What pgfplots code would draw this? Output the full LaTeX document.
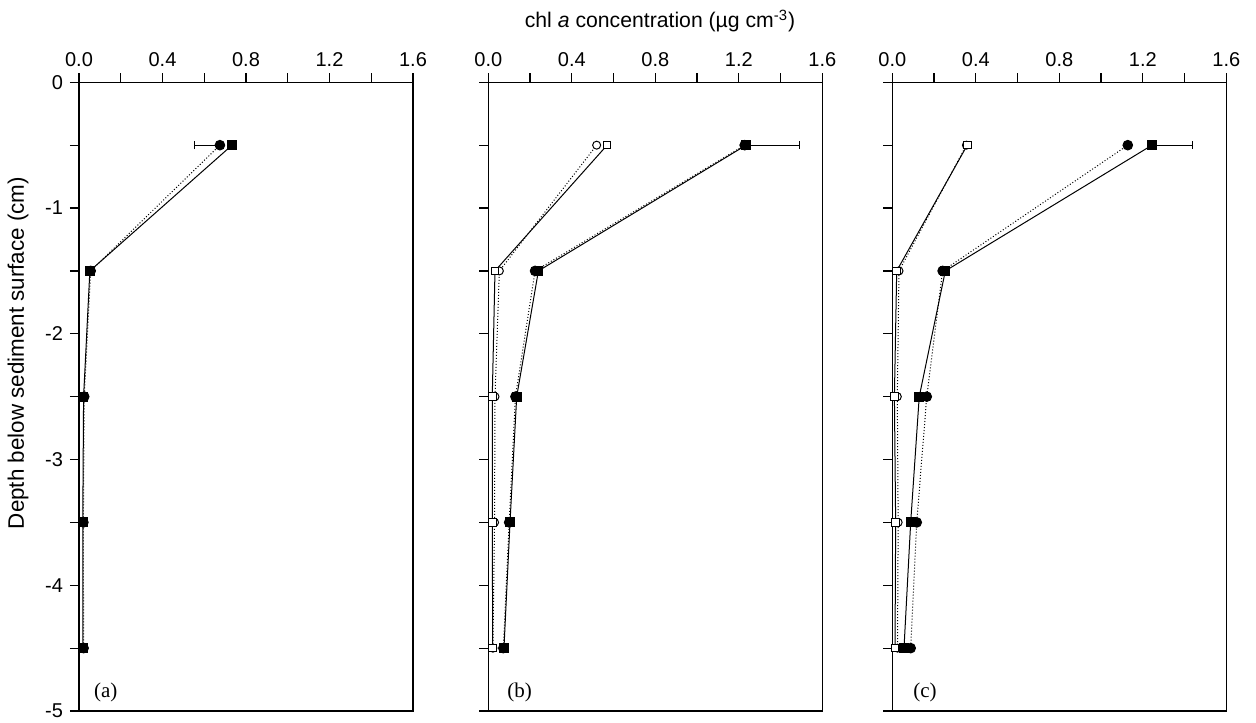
\documentclass[border=0pt]{standalone}
\usepackage{pgfplots}
\pgfplotsset{compat=1.18}
\usepackage{fontspec}
\setmainfont{Liberation Sans}
\newfontfamily\seriffont{Liberation Serif}

\pgfplotsset{
  panel/.style={
    width=167pt, height=314.35pt, scale only axis,
    anchor=south west,
    xmin=0, xmax=1.6, ymin=-5, ymax=0,
    xtick={0,0.4,0.8,1.2,1.6}, minor xtick={0.2,0.6,1.0,1.4},
    ytick={-5,-4,-3,-2,-1,0}, minor ytick={-4.5,-3.5,-2.5,-1.5,-0.5},
    xtick pos=right, ytick pos=left, xticklabel pos=right,
    tick align=outside,
    major tick length=4.5pt, minor tick length=4.5pt,
    every tick/.style={black, line width=0.6pt},
    axis line style={line width=0.6pt},
    xticklabel style={font=\fontsize{10}{12}\selectfont, /pgf/number format/.cd, fixed, fixed zerofill, precision=1, assume math mode=true},
    yticklabel style={font=\fontsize{10}{12}\selectfont, /pgf/number format/.cd, assume math mode=true},
    clip=false,
  },
  fc/.style={black, densely dotted, line width=0.5pt, mark=*, mark size=2.4pt, mark options={solid, fill=black, draw=black}},
  fs/.style={black, solid, line width=0.5pt, mark=square*, mark size=2.2pt, mark options={solid, fill=black, draw=black}},
  oc/.style={black, densely dotted, line width=0.5pt, mark=*, mark size=2.0pt, mark options={solid, fill=white, draw=black, line width=0.5pt}},
  os/.style={black, solid, line width=0.5pt, mark=square*, mark size=1.9pt, mark options={solid, fill=white, draw=black, line width=0.5pt}},
  eb/.style={error bars/.cd, x explicit, #1,
    error bar style={solid, line width=0.5pt, black},
    error mark options={solid, rotate=90, mark size=2pt, line width=0.5pt, black}},
}

\begin{document}
\begin{tikzpicture}
\useasboundingbox (0,0) rectangle (628pt,361pt);

% Panel (a)
\begin{axis}[panel, at={(39.5pt,5.5pt)}]
\addplot[fs] coordinates {(0.733,-0.5) (0.052,-1.5) (0.022,-2.5) (0.018,-3.5) (0.018,-4.5)};
\addplot[fc, eb={x dir=minus}] coordinates {(0.675,-0.5) +- (0.124,0) (0.056,-1.5) +- (0,0) (0.025,-2.5) +- (0,0) (0.021,-3.5) +- (0,0) (0.022,-4.5) +- (0,0)};
\node[font=\seriffont\fontsize{10.5}{12}\selectfont, anchor=base west, xshift=4pt, yshift=7pt] at (rel axis cs:0,0) {(a)};
\end{axis}

% Panel (b)
\begin{axis}[panel, at={(244.15pt,5.5pt)}, yticklabels={}]
\addplot[oc] coordinates {(0.519,-0.5) (0.053,-1.5) (0.032,-2.5) (0.030,-3.5) (0.022,-4.5)};
\addplot[os] coordinates {(0.569,-0.5) (0.032,-1.5) (0.019,-2.5) (0.019,-3.5) (0.021,-4.5)};
\addplot[fc] coordinates {(1.228,-0.5) (0.224,-1.5) (0.130,-2.5) (0.100,-3.5) (0.072,-4.5)};
\addplot[fs, eb={x dir=plus}] coordinates {(1.235,-0.5) +- (0.258,0) (0.240,-1.5) +- (0,0) (0.136,-2.5) +- (0,0) (0.104,-3.5) +- (0,0) (0.075,-4.5) +- (0,0)};
\node[font=\seriffont\fontsize{10.5}{12}\selectfont, anchor=base west, xshift=6pt, yshift=7pt] at (rel axis cs:0,0) {(b)};
\end{axis}

% Panel (c)
\begin{axis}[panel, at={(446.15pt,5.5pt)}, yticklabels={}]
\addplot[oc] coordinates {(0.355,-0.5) (0.032,-1.5) (0.024,-2.5) (0.028,-3.5) (0.025,-4.5)};
\addplot[os] coordinates {(0.359,-0.5) (0.021,-1.5) (0.010,-2.5) (0.016,-3.5) (0.013,-4.5)};
\addplot[fc] coordinates {(1.128,-0.5) (0.241,-1.5) (0.165,-2.5) (0.117,-3.5) (0.088,-4.5)};
\addplot[fs, eb={x dir=plus}] coordinates {(1.244,-0.5) +- (0.192,0) (0.254,-1.5) +- (0,0) (0.129,-2.5) +- (0,0) (0.088,-3.5) +- (0,0) (0.056,-4.5) +- (0,0)};
\node[font=\seriffont\fontsize{10.5}{12}\selectfont, anchor=base west, xshift=7pt, yshift=7pt] at (rel axis cs:0,0) {(c)};
\end{axis}

\node[anchor=base, font=\fontsize{10.6}{12}\selectfont] at (330pt,347pt) {chl \textit{a} concentration (µg cm\textsuperscript{-3})};
\node[rotate=90, anchor=base, font=\fontsize{11.2}{13}\selectfont] at (12pt,184.5pt) {Depth below sediment surface (cm)};
\end{tikzpicture}
\end{document}
